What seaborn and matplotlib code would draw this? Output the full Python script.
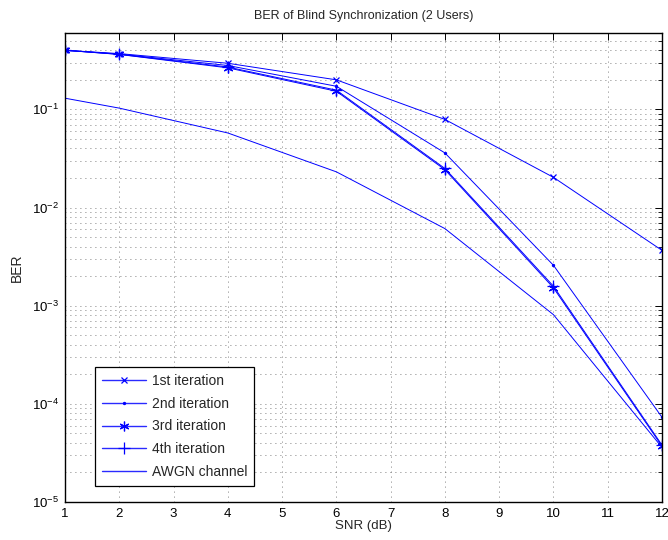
import matplotlib
matplotlib.use("Agg")
import matplotlib.pyplot as plt
import seaborn as sns
import pandas as pd
import numpy as np

snr = [1, 2, 4, 6, 8, 10, 12]
ber_iter1 = [0.40, 0.370, 0.295, 0.200, 0.079, 0.0203, 0.00366]
ber_iter2 = [0.40, 0.366, 0.280, 0.172, 0.036, 0.00258, 7.3e-5]
ber_iter3 = [0.40, 0.363, 0.265, 0.153, 0.0243, 0.00152, 3.7e-5]
ber_iter4 = [0.40, 0.364, 0.270, 0.157, 0.0250, 0.00158, 3.8e-5]
ber_awgn = [0.130, 0.103, 0.0575, 0.0231, 0.0061, 0.00081, 3.6e-5]

labels = ["1st iteration", "2nd iteration", "3rd iteration", "4th iteration", "AWGN channel"]
markers = ["x", ".", (6, 2, 0), "+", None]
msizes = [5, 3, 7, 8, 0]
series = [ber_iter1, ber_iter2, ber_iter3, ber_iter4, ber_awgn]

sns.set_theme(style="white")
plt.rcParams['font.family'] = ['Liberation Sans', 'DejaVu Sans']
plt.rcParams['mathtext.fontset'] = 'custom'
plt.rcParams['mathtext.rm'] = 'Liberation Sans'
plt.rcParams['mathtext.it'] = 'Liberation Sans:italic'

fig = plt.figure(figsize=(6.68, 5.40), dpi=100)
ax = fig.add_axes([65/668, 1-502/540, (662-65)/668, (502-33)/540])

for lab, vals, mk, ms in zip(labels, series, markers, msizes):
    df = pd.DataFrame({"SNR": snr, "BER": vals})
    sns.lineplot(data=df, x="SNR", y="BER", ax=ax, color="#0000ff", linewidth=0.7,
                 marker=mk, markersize=ms, markeredgewidth=0.9, markeredgecolor="#0000ff",
                 markerfacecolor="#0000ff", label=lab, legend=False)

ax.set_yscale("log")
ax.set_xlim(1, 12)
ax.set_ylim(1e-5, 0.6)
ax.set_xticks(range(1, 13))
ax.set_yticks([1e-5, 1e-4, 1e-3, 1e-2, 1e-1])

grid_kw = dict(color="#555555", linestyle=(0, (1, 5)), linewidth=0.6)
ax.grid(True, which="major", axis="both", **grid_kw)
ax.grid(True, which="minor", axis="y", **grid_kw)

ax.tick_params(axis="both", which="both", direction="in", top=True, right=True,
               labelsize=9.5, colors="black")
ax.tick_params(which="major", length=5, width=0.7, pad=4)
ax.tick_params(which="minor", length=3, width=0.6)
for s in ax.spines.values():
    s.set_color("black")
    s.set_linewidth(1.0)

ax.set_xlabel("SNR (dB)", fontsize=9.5, labelpad=0)
ax.set_ylabel("BER", fontsize=10, labelpad=6)
ax.set_title("BER of Blind Synchronization (2 Users)", fontsize=9, pad=10)

handles = [l for l in ax.get_lines() if l.get_label() in labels]
leg = ax.legend(handles=handles, labels=labels, loc="lower left",
                bbox_to_anchor=(0.05, 0.035), fontsize=10,
                frameon=True, fancybox=False, edgecolor="black", framealpha=1,
                borderpad=0.5, labelspacing=0.62, handlelength=3.2, handletextpad=0.4,
                borderaxespad=0)
leg.get_frame().set_linewidth(0.9)
for ln in leg.get_lines():
    ln.set_color("#2a2aff")
    ln.set_linewidth(1.0)
    ln.set_alpha(1.0)

fig.savefig("out.png", dpi=100)
